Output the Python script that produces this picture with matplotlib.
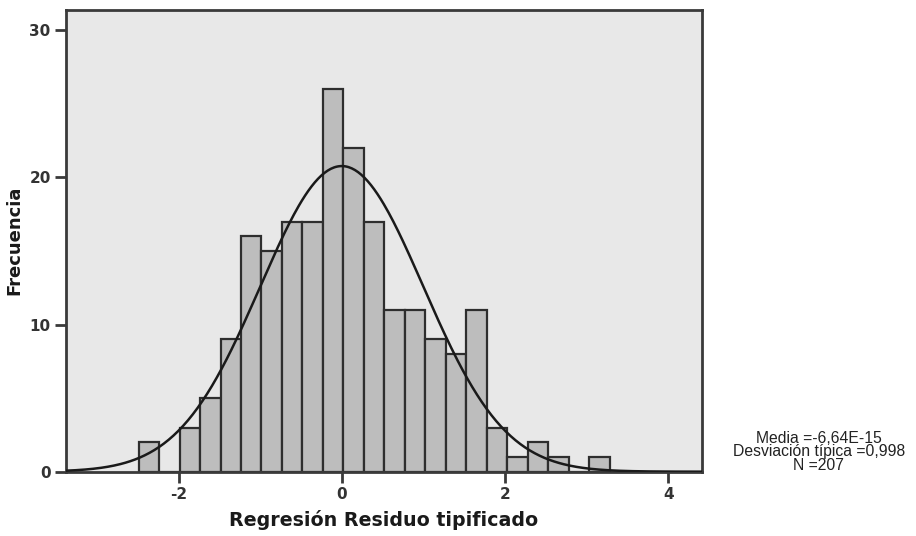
import matplotlib
matplotlib.use("Agg")
import matplotlib.pyplot as plt
import numpy as np

# histogram of standardized residuals
bin_start = -2.49
bin_width = 0.251
counts = [2, 0, 3, 5, 9, 16, 15, 17, 17, 26, 22, 17, 11, 11, 9, 8, 11, 3, 1, 2, 1, 0, 1]

mean = -6.64e-15
sd = 0.998
n = 207

stats_text = "Media =-6,64E-15\nDesviación típica =0,998\nN =207"
x_ticks = [-2, 0, 2, 4]
y_ticks = [0, 10, 20, 30]

plt.rcParams['axes.unicode_minus'] = False

edges = bin_start + bin_width * np.arange(len(counts) + 1)

fig = plt.figure(figsize=(9.16, 5.36), dpi=100)
ax = fig.add_axes([0.072, 0.12, 0.694, 0.862])
ax.set_facecolor('#e8e8e8')

ax.bar(edges[:-1], counts, width=bin_width, align='edge',
       color='#bdbdbd', edgecolor='#2e2e2e', linewidth=1.6, zorder=2)

# normal curve scaled to the histogram
xs = np.linspace(-3.4, 4.45, 400)
ys = n * bin_width * np.exp(-0.5 * ((xs - mean) / sd) ** 2) / (sd * np.sqrt(2 * np.pi))
ax.plot(xs, ys, color='#1a1a1a', linewidth=1.8, zorder=3)

ax.set_xlim(-3.38, 4.41)
ax.set_ylim(0, 31.4)
ax.set_xticks(x_ticks)
ax.set_yticks(y_ticks)

for s in ax.spines.values():
    s.set_linewidth(2)
    s.set_color('#3a3a3a')

ax.tick_params(direction='out', length=8, width=2, color='#3a3a3a',
               labelsize=11, labelcolor='#333333', pad=3)
for lab in ax.get_xticklabels() + ax.get_yticklabels():
    lab.set_fontweight('bold')
    lab.set_family('DejaVu Sans')

ax.set_xlabel('Regresión Residuo tipificado', fontsize=13.7, fontweight='bold',
              family='DejaVu Sans', color='#1a1a1a', labelpad=6)
ax.set_ylabel('Frecuencia', fontsize=13, fontweight='bold',
              family='DejaVu Sans', color='#1a1a1a', labelpad=4)

fig.text(0.894, 0.157, stats_text, ha='center', va='center', fontsize=11.3,
         family='Liberation Sans', color='#222222', linespacing=0.9)

plt.savefig('out.png', dpi=100)
